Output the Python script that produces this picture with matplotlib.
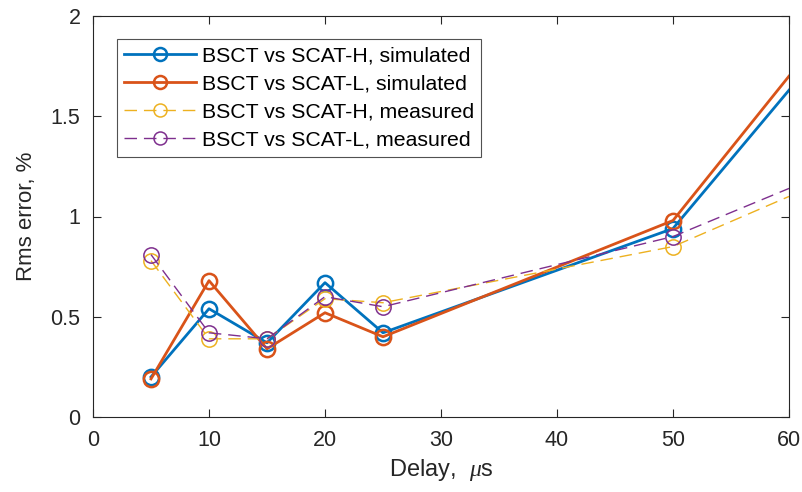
import matplotlib
matplotlib.use("Agg")
import matplotlib.pyplot as plt

plt.rcParams['font.family'] = ['Liberation Sans', 'DejaVu Sans']
plt.rcParams['mathtext.fontset'] = 'custom'
plt.rcParams['mathtext.it'] = 'Liberation Serif:italic'

delay = [5, 10, 15, 20, 25, 50, 60]
h_sim = [0.20, 0.54, 0.37, 0.67, 0.42, 0.94, 1.63]
l_sim = [0.19, 0.68, 0.34, 0.52, 0.40, 0.98, 1.70]
h_meas = [0.78, 0.39, 0.39, 0.59, 0.57, 0.85, 1.10]
l_meas = [0.81, 0.42, 0.39, 0.60, 0.55, 0.90, 1.14]

labels = ["BSCT vs SCAT-H, simulated", "BSCT vs SCAT-L, simulated",
          "BSCT vs SCAT-H, measured", "BSCT vs SCAT-L, measured"]
colors = ["#0072BD", "#D95319", "#EDB120", "#7E2F8E"]

fig = plt.figure(figsize=(8.03, 4.92), dpi=100)
ax = fig.add_axes([93/803, 1 - 417/492, 696/803, 401/492])

marks = list(range(6))
ax.plot(delay, h_sim, '-', color=colors[0], lw=2, marker='o', ms=11,
        mfc='none', mew=1.8, markevery=marks, label=labels[0])
ax.plot(delay, l_sim, '-', color=colors[1], lw=2, marker='o', ms=11,
        mfc='none', mew=1.8, markevery=marks, label=labels[1])
ax.plot(delay, h_meas, color=colors[2], lw=1, dashes=(9, 5), marker='o', ms=11,
        mfc='none', mew=1.1, markevery=marks, label=labels[2])
ax.plot(delay, l_meas, color=colors[3], lw=1, dashes=(9, 5), marker='o', ms=11,
        mfc='none', mew=1.1, markevery=marks, label=labels[3])

ax.set_xlim(0, 60)
ax.set_ylim(0, 2)
ax.set_xticks([0, 10, 20, 30, 40, 50, 60])
ax.set_yticks([0, 0.5, 1, 1.5, 2])
ax.set_yticklabels(["0", "0.5", "1", "1.5", "2"])
ax.tick_params(direction='in', top=True, right=True, length=6, width=0.8,
               labelsize=15.5, colors='#262626')
ax.tick_params(axis='y', pad=9)
ax.tick_params(axis='x', pad=9)
for s in ax.spines.values():
    s.set_color('#262626')
    s.set_linewidth(0.8)

ax.set_xlabel(r"Delay,  $\mu$s", fontsize=17, color='#262626', labelpad=5)
ax.set_ylabel("Rms error, %", fontsize=16, color='#262626', labelpad=10)

leg = ax.legend(loc='upper left', bbox_to_anchor=(0.034, 0.943), fontsize=15.3,
                handlelength=3.4, handletextpad=0.25, labelspacing=0.42,
                borderpad=0.35, borderaxespad=0, frameon=True, fancybox=False,
                markerscale=0.85)
leg.get_frame().set_edgecolor('#262626')
leg.get_frame().set_linewidth(0.8)

fig.savefig("out.png", dpi=100)
